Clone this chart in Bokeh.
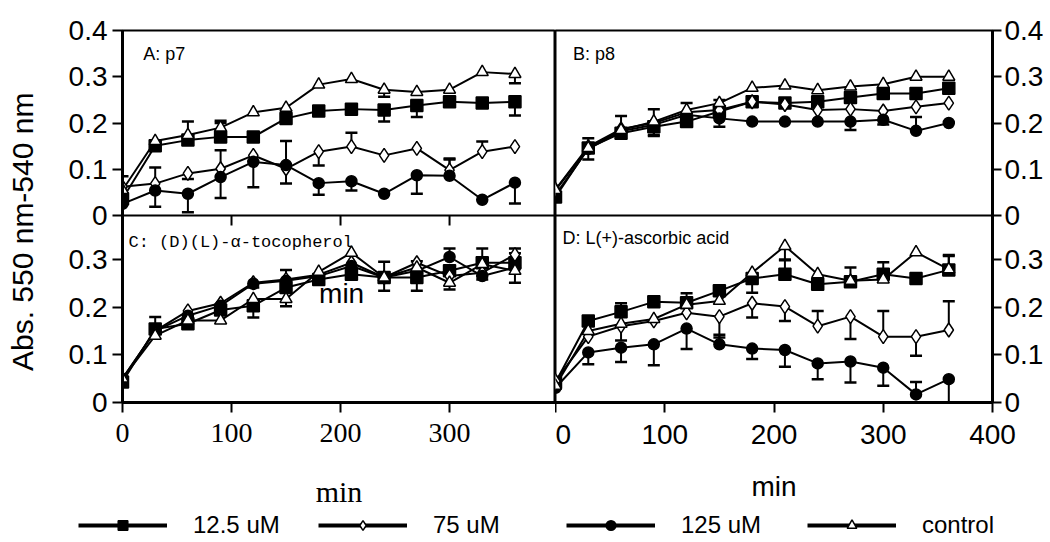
import math
from bokeh.plotting import figure
from bokeh.layouts import row, column
from bokeh.models import (Range1d, LinearAxis, FixedTicker, Label, Legend, LegendItem,
                          Span, CustomJSTickFormatter)
from bokeh.core.properties import value
from bokeh.embed import file_html
from bokeh.resources import INLINE

# ---------------- data ----------------
TIME = [0, 30, 60, 90, 120, 150, 180, 210, 240, 270, 300, 330, 360]
SERIES = ["12.5 uM", "75 uM", "125 uM", "control"]

# Panel A: p7
a_12_5 = [0.036, 0.151, 0.163, 0.170, 0.170, 0.210, 0.226, 0.230, 0.228, 0.238, 0.246, 0.243, 0.246]
a_75 = [0.062, 0.069, 0.091, 0.101, 0.130, 0.101, 0.138, 0.149, 0.130, 0.145, 0.098, 0.138, 0.149]
a_125 = [0.025, 0.054, 0.047, 0.083, 0.116, 0.109, 0.070, 0.074, 0.047, 0.087, 0.086, 0.034, 0.071]
a_ctrl = [0.055, 0.161, 0.174, 0.190, 0.223, 0.233, 0.283, 0.295, 0.272, 0.267, 0.272, 0.310, 0.306]
a_12_5_err = [0, 0, 0.04, 0.035, 0, 0, 0, 0, -0.025, -0.025, 0, 0, -0.03]
a_75_err = [0, 0.035, -0.012, 0.04, 0, 0.06, -0.03, 0.03, 0, 0, 0.025, 0.022, 0]
a_125_err = [0.06, -0.035, -0.04, -0.045, -0.055, -0.04, -0.025, -0.02, 0, -0.04, 0.035, 0, -0.045]
a_ctrl_err = [0, 0, 0, 0.01, 0, 0, 0, 0, -0.015, 0, 0, 0, -0.02]

# Panel B: p8
b_12_5 = [0.040, 0.146, 0.178, 0.192, 0.203, 0.225, 0.246, 0.243, 0.246, 0.255, 0.264, 0.264, 0.275]
b_75 = [0.056, 0.149, 0.187, 0.200, 0.223, 0.228, 0.246, 0.240, 0.228, 0.230, 0.226, 0.235, 0.243]
b_125 = [0.045, 0.144, 0.182, 0.196, 0.218, 0.210, 0.203, 0.203, 0.203, 0.203, 0.207, 0.183, 0.200]
b_ctrl = [0.055, 0.146, 0.185, 0.203, 0.228, 0.243, 0.276, 0.281, 0.271, 0.279, 0.284, 0.300, 0.300]
b_12_5_err = [0, -0.025, 0, -0.02, 0, 0, 0, 0, 0, 0, 0, 0, 0]
b_75_err = [0, 0.018, 0.028, 0.03, 0.02, 0.022, 0, 0, 0, 0, 0, 0, 0]
b_125_err = [0, 0, 0, -0.022, 0, -0.018, 0, 0, 0, -0.018, -0.01, 0.03, 0]
b_ctrl_err = [0, 0, 0, 0, 0, 0, 0, 0, 0, 0, 0, 0, 0]

# Panel C: (D)(L)-alpha-tocopherol
c_12_5 = [0.043, 0.154, 0.165, 0.194, 0.203, 0.241, 0.258, 0.269, 0.262, 0.262, 0.276, 0.293, 0.293]
c_75 = [0.050, 0.150, 0.192, 0.208, 0.251, 0.258, 0.268, 0.293, 0.262, 0.293, 0.265, 0.272, 0.310]
c_125 = [0.050, 0.150, 0.182, 0.203, 0.249, 0.255, 0.265, 0.286, 0.262, 0.276, 0.305, 0.265, 0.283]
c_ctrl = [0.050, 0.140, 0.172, 0.172, 0.217, 0.217, 0.274, 0.314, 0.262, 0.283, 0.251, 0.290, 0.276]
c_12_5_err = [0, 0.025, 0, 0, -0.025, 0, 0, 0, -0.028, -0.028, 0, 0.03, 0]
c_75_err = [0, 0, 0, 0, -0.01, 0.02, 0, 0, 0.033, 0, 0, 0, 0.013]
c_125_err = [0, 0, 0, 0, 0, 0, 0, 0, 0, 0.02, 0.018, -0.007, 0.03]
c_ctrl_err = [0, 0, 0, 0, 0, -0.015, 0, 0, 0, 0, -0.014, 0, -0.025]

# Panel D: L(+)-ascorbic acid
d_12_5 = [0.042, 0.171, 0.190, 0.211, 0.209, 0.234, 0.260, 0.269, 0.248, 0.253, 0.269, 0.260, 0.278]
d_75 = [0.045, 0.138, 0.160, 0.171, 0.188, 0.180, 0.208, 0.201, 0.160, 0.180, 0.138, 0.138, 0.152]
d_125 = [0.031, 0.105, 0.115, 0.122, 0.155, 0.122, 0.113, 0.110, 0.082, 0.086, 0.073, 0.017, 0.049]
d_ctrl = [0.035, 0.150, 0.165, 0.175, 0.205, 0.213, 0.272, 0.328, 0.269, 0.255, 0.258, 0.315, 0.279]
d_12_5_err = [0, 0, 0.018, 0, 0.02, 0, -0.03, 0.031, 0, 0.03, 0.025, 0, 0.029]
d_75_err = [0, 0, -0.03, 0, 0, -0.044, -0.03, -0.03, 0.032, -0.047, 0.054, -0.04, 0.06]
d_125_err = [0, -0.025, -0.03, -0.044, -0.043, 0.02, -0.022, -0.035, -0.033, -0.044, -0.038, 0.026, -0.049]
d_ctrl_err = [0, 0, 0, 0, 0, 0, 0, -0.03, 0, 0, 0, 0, 0.03]

Y_TICKS_TOP = [0, 0.1, 0.2, 0.3, 0.4]
Y_LABELS_TOP = ["0", "0.1", "0.2", "0.3", "0.4"]
Y_TICKS_BOT = [0, 0.1, 0.2, 0.3]
Y_LABELS_BOT = ["0", "0.1", "0.2", "0.3"]
X_TICKS_LEFT = [0, 100, 200, 300]
X_TICKS_RIGHT = [0, 100, 200, 300, 400]

PANEL_TITLES = ["A: p7", "B: p8", "C: (D)(L)-\u03b1-tocopherol", "D: L(+)-ascorbic acid"]
Y_TITLE = "Abs. 550 nm-540 nm"
X_TITLE = "min"

# ---------------- styles / geometry ----------------
SANS = "Liberation Sans"
SERIF = "Liberation Serif"
MONO = "Liberation Mono"

STYLE = {
    "12.5 uM": dict(marker="square", fill="black", size=12),
    "75 uM": dict(marker="diamond", fill="white", size=14),
    "125 uM": dict(marker="circle", fill="black", size=11),
    "control": dict(marker="triangle", fill="white", size=12),
}

TOP_H, BOT_H = 185, 187          # panel heights in px
TOP_MAX, BOT_MAX = 0.4, 0.392     # visible y limit of each panel row
FRAME_H = TOP_H + BOT_H
FIG_H = 510
BORDER_TOP = 30
BORDER_BOT = FIG_H - BORDER_TOP - FRAME_H
# one unit of the upper panels expressed in units of the lower panels
TOP_SCALE = (TOP_H / TOP_MAX) / (BOT_H / BOT_MAX)


def column_fig(width, xmax, left, right):
    p = figure(width=width, height=FIG_H,
               x_range=Range1d(0, xmax),
               y_range=Range1d(0, BOT_MAX * FRAME_H / BOT_H + 1e-6),
               x_axis_location=None, y_axis_location=None,
               output_backend="svg", toolbar_location=None,
               min_border_left=left, min_border_right=right,
               min_border_top=BORDER_TOP, min_border_bottom=BORDER_BOT)
    p.extra_y_ranges = {"top": Range1d(-TOP_MAX * BOT_H / TOP_H, TOP_MAX + 1e-6 / TOP_SCALE)}
    p.grid.visible = False
    p.outline_line_color = "black"
    p.outline_line_width = 2
    p.background_fill_color = "white"
    p.border_fill_color = "white"
    p.add_layout(Span(location=BOT_MAX, dimension="width",
                      line_color="black", line_width=2))
    return p


def draw_panel(p, vals, errs, yname):
    for v in vals:
        p.line(TIME, v, line_color="black", line_width=2, y_range_name=yname)
    for v, e in zip(vals, errs):
        idx = [i for i, ei in enumerate(e) if ei != 0]
        xs = [TIME[i] for i in idx]
        y0 = [v[i] for i in idx]
        y1 = [v[i] + e[i] for i in idx]
        p.segment(x0=xs, y0=y0, x1=xs, y1=y1, line_color="black",
                  line_width=2, y_range_name=yname)
        p.scatter(xs, y1, marker="dash", size=12, line_color="black",
                  line_width=2.5, y_range_name=yname)
    for v, name in zip(vals, SERIES):
        st = STYLE[name]
        p.scatter(TIME, v, marker=st["marker"], size=st["size"],
                  fill_color=st["fill"], line_color="black", line_width=1.5,
                  y_range_name=yname)


def y_axis(p, side, tick_out, standoff):
    # one axis per column: lower-panel ticks + upper-panel ticks mapped onto it
    pos = list(Y_TICKS_BOT) + [BOT_MAX + t * TOP_SCALE for t in Y_TICKS_TOP]
    labs = list(Y_LABELS_BOT) + list(Y_LABELS_TOP)
    fmt = CustomJSTickFormatter(args=dict(pos=pos, labs=labs), code="""
        let best = 0, d = Infinity;
        for (let i = 0; i < pos.length; i++) {
            const e = Math.abs(pos[i] - tick);
            if (e < d) { d = e; best = i; }
        }
        return labs[best];
    """)
    ax = LinearAxis(ticker=FixedTicker(ticks=pos), formatter=fmt,
                    axis_line_width=3, axis_line_color="black",
                    major_tick_line_width=2, major_tick_out=tick_out, major_tick_in=0,
                    minor_tick_line_color=None,
                    major_label_text_font=SANS, major_label_text_font_size="28px",
                    major_label_standoff=standoff, major_label_text_color="black")
    p.add_layout(ax, side)


def x_axis(p, ticks, font, label_standoff, title_font, title_size, title_standoff):
    ax = LinearAxis(ticker=FixedTicker(ticks=ticks),
                    axis_line_width=3, axis_line_color="black",
                    major_tick_line_width=2, major_tick_out=10, major_tick_in=0,
                    minor_tick_line_color=None,
                    major_label_text_font=font, major_label_text_font_size="28px",
                    major_label_standoff=label_standoff, major_label_text_color="black",
                    axis_label=X_TITLE, axis_label_text_font=title_font,
                    axis_label_text_font_size=title_size,
                    axis_label_text_font_style="normal",
                    axis_label_text_color="black",
                    axis_label_standoff=title_standoff)
    p.add_layout(ax, "below")


def panel_title(p, x, y, text, yname, font, size):
    p.add_layout(Label(x=x, y=y, text=text, y_range_name=yname,
                       text_font=font, text_font_size=size,
                       text_baseline="middle", text_color="black"))


# ---------------- left column (A over C) ----------------
left = column_fig(507, 397.2, 74, 0)
draw_panel(left, [a_12_5, a_75, a_125, a_ctrl],
           [a_12_5_err, a_75_err, a_125_err, a_ctrl_err], "top")
draw_panel(left, [c_12_5, c_75, c_125, c_ctrl],
           [c_12_5_err, c_75_err, c_125_err, c_ctrl_err], "default")
y_axis(left, "left", 10, 5)
x_axis(left, X_TICKS_LEFT, SERIF, 11, SERIF, "30px", 30)
# short ticks on the border between A and C (pointing down into C)
tick_len = 10 * BOT_MAX / BOT_H
left.segment(x0=X_TICKS_LEFT[1:], y0=[BOT_MAX] * 3, x1=X_TICKS_LEFT[1:],
             y1=[BOT_MAX - tick_len] * 3, line_color="black", line_width=2)
panel_title(left, 19, 0.35, PANEL_TITLES[0], "top", SANS, "18px")
panel_title(left, 5.5, 0.335, PANEL_TITLES[2], "default", MONO, "17px")
left.add_layout(Label(x=201, y=0.228, text=X_TITLE, text_font=SANS,
                      text_font_size="28px", text_align="center",
                      text_baseline="middle", text_color="black"))

# ---------------- right column (B over D) ----------------
right = column_fig(493, 400, 0, 56)
draw_panel(right, [b_12_5, b_75, b_125, b_ctrl],
           [b_12_5_err, b_75_err, b_125_err, b_ctrl_err], "top")
draw_panel(right, [d_12_5, d_75, d_125, d_ctrl],
           [d_12_5_err, d_75_err, d_125_err, d_ctrl_err], "default")
y_axis(right, "right", 9, 3)
x_axis(right, X_TICKS_RIGHT, SANS, 12, SANS, "28px", 24)
panel_title(right, 16, 0.35, PANEL_TITLES[1], "top", SANS, "18px")
panel_title(right, 6.5, 0.344, PANEL_TITLES[3], "default", SANS, "18px")

# ---------------- y title ----------------
ylab = figure(width=48, height=FIG_H, x_range=Range1d(0, 48), y_range=Range1d(0, FIG_H),
              x_axis_location=None, y_axis_location=None,
              output_backend="svg", toolbar_location=None, min_border=0)
ylab.outline_line_color = None
ylab.grid.visible = False
ylab.add_layout(Label(x=22, y=234, text=Y_TITLE, angle=math.pi / 2,
                      text_align="center", text_baseline="middle",
                      text_font=SANS, text_font_size="30px", text_color="black"))

# ---------------- legend strip ----------------
LEG_H = 30
lf = figure(width=1048, height=LEG_H, x_range=Range1d(0, 1), y_range=Range1d(0, 1),
            x_axis_location=None, y_axis_location=None,
            output_backend="svg", toolbar_location=None, min_border=0)
lf.outline_line_color = None
lf.grid.visible = False
LEG_X = [78, 318, 566, 807]
for name, lx in zip(SERIES, LEG_X):
    st = STYLE[name]
    # one point far outside this strip's ranges, only so the legend can draw the glyphs
    ln = lf.line(x=TIME[-1:], y=TIME[-1:], line_color="black", line_width=4)
    sc = lf.scatter(x=TIME[-1:], y=TIME[-1:], marker=st["marker"], fill_color=st["fill"],
                    line_color="black", line_width=1.5)
    leg = Legend(items=[LegendItem(label=value(name), renderers=[ln, sc])],
                 location=(lx, 1), orientation="horizontal",
                 glyph_width=89, glyph_height=24, label_standoff=26,
                 padding=0, margin=0, spacing=0, border_line_color=None,
                 background_fill_alpha=0, label_text_font=SANS,
                 label_text_color="black",
                 label_text_font_size="24px", label_height=24)
    lf.add_layout(leg, "center")

layout = column(row(ylab, left, right), lf)

with open("out.html", "w") as f:
    f.write(file_html(layout, INLINE))
